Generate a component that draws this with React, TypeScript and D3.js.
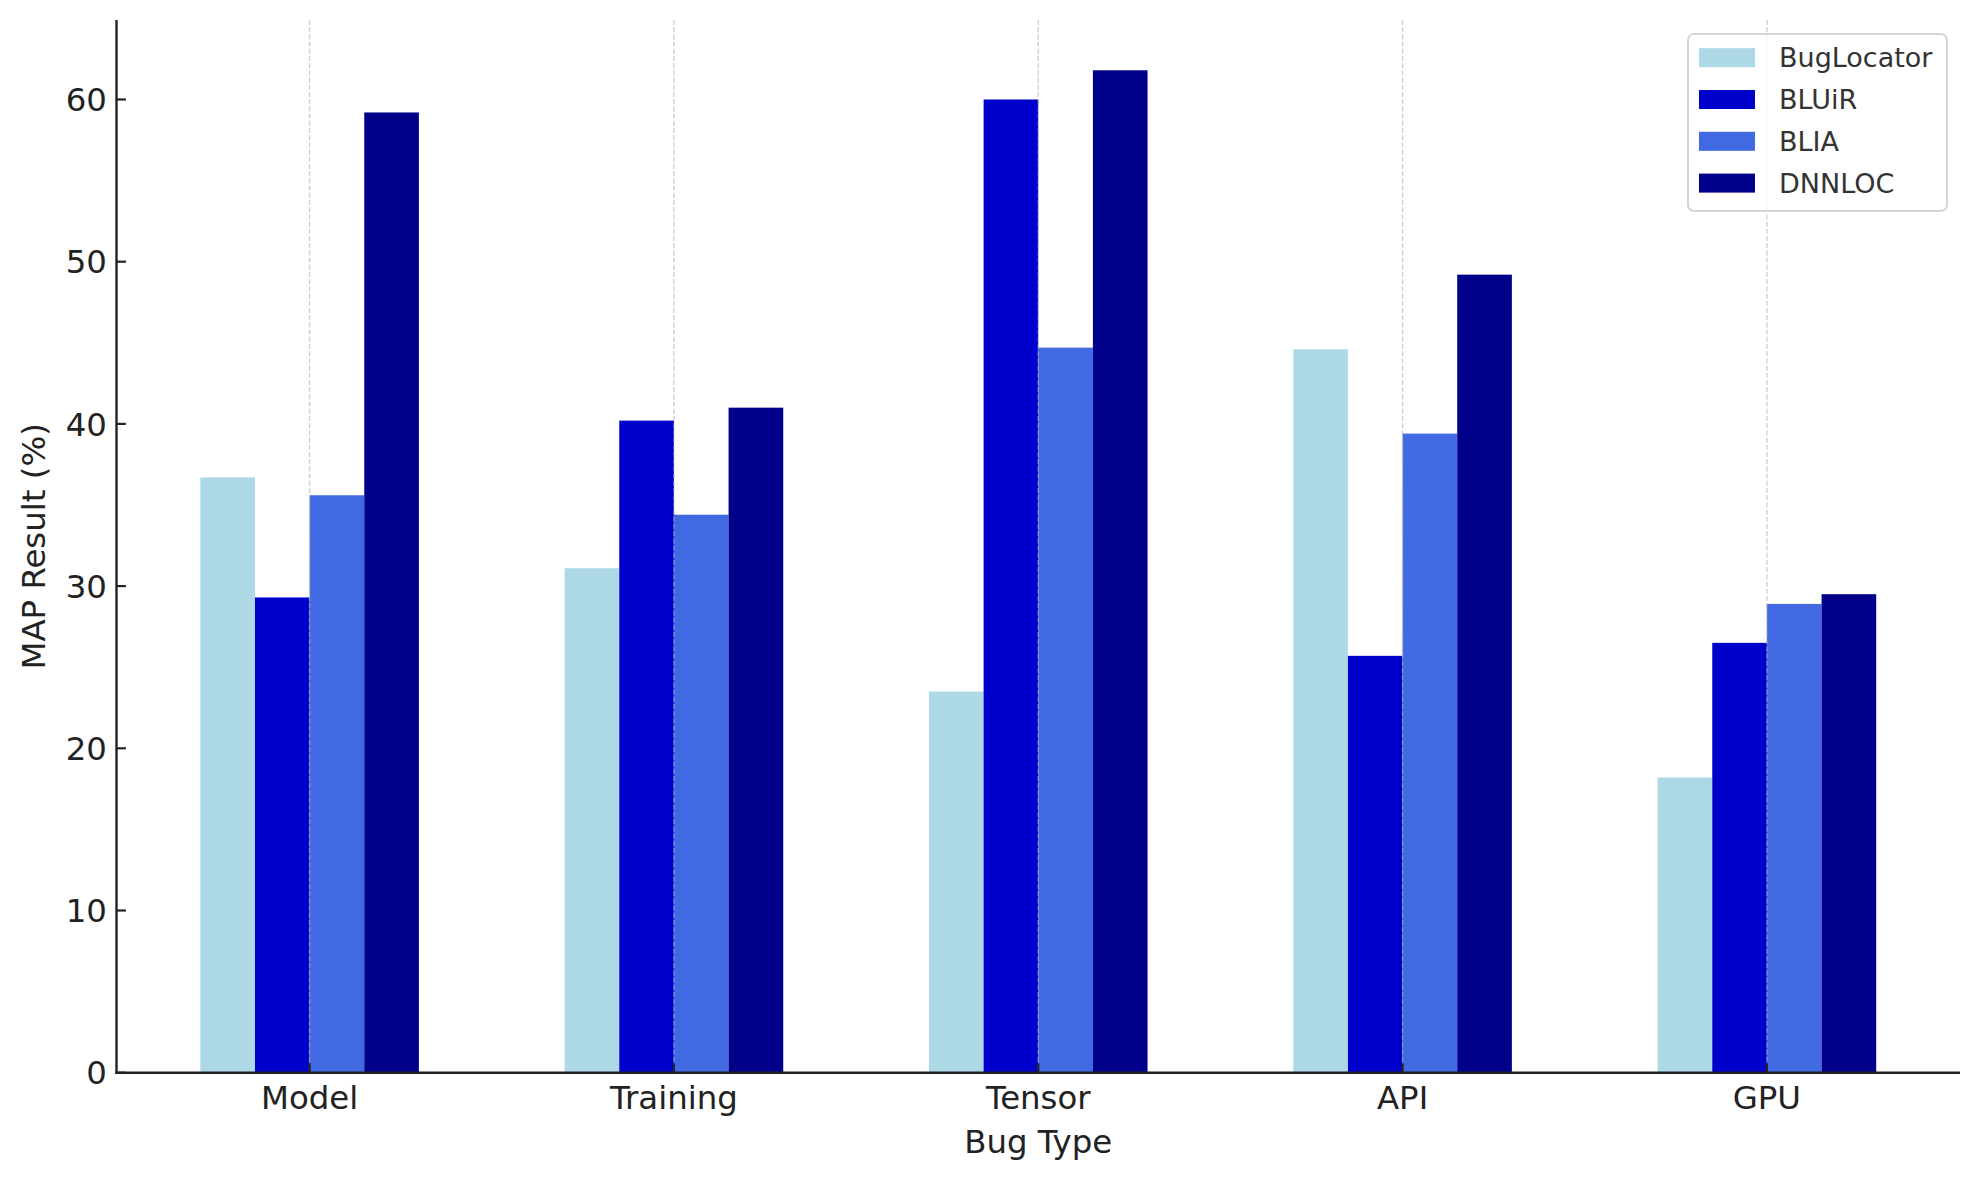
import React from "react";
import * as d3 from "d3";

const categories = ["Model", "Training", "Tensor", "API", "GPU"];
const seriesNames = ["BugLocator", "BLUiR", "BLIA", "DNNLOC"];
const bugLocator = [36.7, 31.1, 23.5, 44.6, 18.2];
const bluir = [29.3, 40.2, 60.0, 25.7, 26.5];
const blia = [35.6, 34.4, 44.7, 39.4, 28.9];
const dnnloc = [59.2, 41.0, 61.8, 49.2, 29.5];
const seriesColors = ["#ADD8E6", "#0000CD", "#4169E1", "#00008B"];
const yTicks = [0, 10, 20, 30, 40, 50, 60];

const W = 1979;
const H = 1180;
const FONT = "'DejaVu Sans', sans-serif";

export default function App() {
  const series = [bugLocator, bluir, blia, dnnloc];
  const barW = 0.15;
  const x = d3.scaleLinear().domain([-0.53, 4.53]).range([116.5, 1960]);
  const y = d3.scaleLinear().domain([0, 64.9]).range([1072.7, 20]);
  const px = (v: number) => x(v) - x(0);
  const x0 = x.range()[0];
  const x1 = x.range()[1];
  const yb = y(0);
  const yt = y.range()[1];

  const legendX = 1688;
  const legendY = 34;
  const legendW = 259;
  const legendH = 177;

  return (
    <svg
      width={W}
      height={H}
      style={{ position: "absolute", left: 0, top: 0, background: "#fff" }}
      fontFamily={FONT}
    >
      <rect x={0} y={0} width={W} height={H} fill="#fff" />
      {/* bars */}
      {series.map((vals, si) =>
        vals.map((v, ci) => (
          <rect
            key={`b-${si}-${ci}`}
            x={x(ci - 2 * barW + si * barW)}
            y={y(v)}
            width={px(barW)}
            height={yb - y(v)}
            fill={seriesColors[si]}
          />
        ))
      )}
      {/* vertical grid */}
      {categories.map((c, i) => (
        <line
          key={`g-${c}`}
          x1={x(i)}
          x2={x(i)}
          y1={yt}
          y2={yb}
          stroke="#b0b0b0"
          strokeOpacity={0.6}
          strokeWidth={1.4}
          strokeDasharray="5,2.2"
        />
      ))}
      {/* spines */}
      <line x1={x0} x2={x0} y1={yt} y2={yb + 1.2} stroke="#222" strokeWidth={2.4} />
      <line x1={x0 - 1.2} x2={x1} y1={yb} y2={yb} stroke="#222" strokeWidth={2.4} />
      {/* y ticks */}
      {yTicks.map((t) => (
        <g key={`yt-${t}`}>
          <line x1={x0} x2={x0 + 9.4} y1={y(t)} y2={y(t)} stroke="#222" strokeWidth={2.2} />
          <text
            x={x0 - 9.6}
            y={y(t)}
            dy="0.36em"
            textAnchor="end"
            fontSize={32.4}
            fill="#222"
          >
            {t}
          </text>
        </g>
      ))}
      {/* x ticks */}
      {categories.map((c, i) => (
        <g key={`xt-${c}`}>
          <line x1={x(i)} x2={x(i)} y1={yb} y2={yb - 9.4} stroke="#222" strokeWidth={2.2} />
          <text x={x(i)} y={1108.5} textAnchor="middle" fontSize={32.4} fill="#222">
            {c}
          </text>
        </g>
      ))}
      {/* axis labels */}
      <text x={(x0 + x1) / 2} y={1153} textAnchor="middle" fontSize={32.4} fill="#222">
        Bug Type
      </text>
      <text
        transform={`translate(45, ${(yt + yb) / 2}) rotate(-90)`}
        textAnchor="middle"
        fontSize={32.4}
        fill="#222"
      >
        MAP Result (%)
      </text>
      {/* legend */}
      <rect
        x={legendX}
        y={legendY}
        width={legendW}
        height={legendH}
        rx={6}
        ry={6}
        fill="#fff"
        fillOpacity={0.8}
        stroke="#d4d4d4"
        strokeWidth={2}
      />
      {seriesNames.map((n, i) => {
        const cy = 57.7 + i * 41.8;
        return (
          <g key={`lg-${n}`}>
            <rect x={1699} y={cy - 9.5} width={56} height={19} fill={seriesColors[i]} />
            <text x={1779} y={cy} dy="0.36em" fontSize={27} fill="#333">
              {n}
            </text>
          </g>
        );
      })}
    </svg>
  );
}
